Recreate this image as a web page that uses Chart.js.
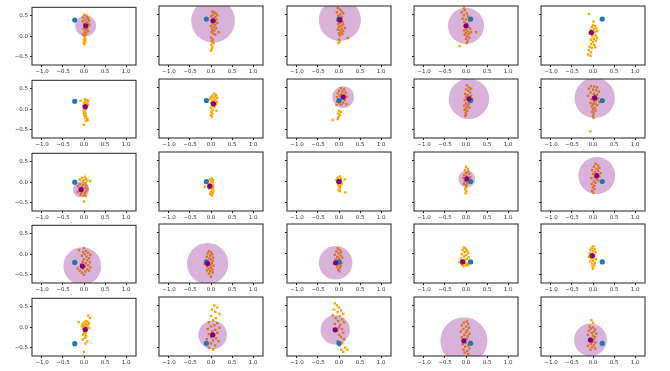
<!DOCTYPE html>
<html><head><meta charset="utf-8">
<script src="https://cdn.jsdelivr.net/npm/chart.js@4/dist/chart.umd.min.js"></script>
<style>
body{margin:0;background:#fff;width:670px;height:371px;overflow:hidden;position:relative}
canvas{position:absolute}
</style></head><body>
<script>
const xTicks = [-1.0, -0.5, 0.0, 0.5, 1.0];
const yTicks = [-0.5, 0.0, 0.5];

// purple point = centre of the translucent circle, per panel (row-major, 5x5)
const centerX = [0.04,0.05,0.02,0.00,-0.04, 0.03,0.06,0.10,0.07,0.04, -0.07,-0.03,0.00,0.02,0.09, -0.04,-0.08,-0.08,-0.08,-0.02, 0.03,0.04,-0.09,-0.05,-0.06];
const centerY = [0.25,0.35,0.37,0.23,0.07, 0.06,0.11,0.27,0.23,0.25, -0.18,-0.11,0.00,0.06,0.14, -0.29,-0.24,-0.22,-0.20,-0.05, -0.06,-0.20,-0.08,-0.34,-0.32];
const circleR = [0.25,0.52,0.50,0.43,0, 0,0,0.26,0.48,0.48, 0.19,0,0,0.20,0.44, 0.45,0.49,0.40,0,0, 0,0.34,0.35,0.56,0.39];

const blueX = [-0.22,-0.11,0.00,0.11,0.22, -0.22,-0.11,0.00,0.11,0.22, -0.22,-0.11,0.00,0.11,0.22, -0.22,-0.11,0.00,0.11,0.22, -0.22,-0.11,0.00,0.11,0.22];
const blueY = [0.39,0.39,0.39,0.39,0.39, 0.19,0.19,0.19,0.19,0.19, 0.00,0.00,0.00,0.00,0.00, -0.20,-0.20,-0.20,-0.20,-0.20, -0.40,-0.40,-0.40,-0.40,-0.40];

const orange = [
 [[0.0,0.52],[0.05,0.5],[0.08,0.47],[-0.02,0.45],[0.1,0.42],[0.03,0.4],[0.12,0.38],[-0.03,0.36],[0.06,0.34],[0.1,0.3],[0.0,0.3],[0.13,0.27],[0.04,0.22],[0.08,0.2],[-0.01,0.18],[0.06,0.15],[0.1,0.12],[0.02,0.1],[0.05,0.07],[-0.02,0.05],[0.03,0.02],[0.0,0.0],[0.02,-0.05],[0.0,-0.1],[0.03,-0.13],[-0.01,-0.16],[0.01,-0.2],[0.03,-0.08]],
 [[0.03,0.57],[0.08,0.55],[0.12,0.52],[0.05,0.5],[0.15,0.48],[0.0,0.46],[0.1,0.44],[0.05,0.41],[0.13,0.38],[0.02,0.36],[0.08,0.32],[0.15,0.3],[0.04,0.28],[0.1,0.25],[0.0,0.22],[0.06,0.2],[0.12,0.17],[0.03,0.14],[0.08,0.12],[0.18,0.08],[0.02,0.08],[0.06,0.04],[0.1,0.02],[0.0,-0.05],[0.04,-0.1],[0.02,-0.14],[0.06,-0.18],[0.01,-0.22],[0.03,-0.27],[0.02,-0.32],[0.0,-0.36]],
 [[-0.03,0.65],[0.02,0.62],[0.06,0.58],[-0.05,0.55],[0.1,0.53],[0.03,0.5],[-0.02,0.47],[0.07,0.44],[0.0,0.42],[0.05,0.38],[-0.04,0.35],[0.08,0.32],[0.02,0.3],[-0.02,0.27],[0.1,0.26],[0.05,0.23],[0.0,0.2],[0.14,0.18],[0.07,0.16],[-0.03,0.14],[0.03,0.12],[0.1,0.1],[0.05,0.07],[0.0,0.05],[0.08,0.03],[0.02,0.0],[0.21,-0.06],[0.0,-0.1],[0.02,-0.15],[-0.01,-0.18]],
 [[-0.05,0.66],[-0.03,0.6],[-0.1,0.55],[0.02,0.52],[-0.05,0.48],[0.05,0.45],[-0.08,0.4],[0.0,0.38],[0.08,0.35],[-0.04,0.32],[0.03,0.28],[-0.02,0.22],[0.06,0.2],[0.1,0.16],[0.0,0.14],[-0.05,0.12],[0.04,0.1],[0.12,0.08],[0.24,0.08],[0.0,0.06],[0.07,0.04],[-0.03,0.02],[0.03,-0.02],[0.08,-0.05],[0.0,-0.08],[0.04,-0.12],[0.02,-0.18],[-0.15,-0.25]],
 [[-0.1,0.51],[0.01,0.33],[0.0,0.25],[0.05,0.22],[-0.03,0.2],[0.08,0.17],[0.02,0.14],[-0.05,0.12],[0.1,0.1],[0.04,0.08],[-0.08,0.05],[0.0,0.03],[0.06,0.0],[-0.02,-0.02],[0.09,-0.05],[0.02,-0.08],[-0.05,-0.1],[0.07,-0.12],[0.0,-0.15],[-0.04,-0.2],[0.03,-0.22],[-0.08,-0.27],[-0.03,-0.3],[-0.1,-0.35],[-0.05,-0.4],[-0.12,-0.45],[-0.06,-0.48],[0.05,-0.28]],
 [[0.02,0.24],[0.07,0.22],[-0.08,0.2],[0.1,0.2],[0.04,0.18],[0.0,0.15],[0.08,0.14],[0.03,0.12],[0.1,0.1],[-0.02,0.08],[0.06,0.06],[0.0,0.03],[0.04,0.0],[-0.01,-0.03],[0.02,-0.06],[0.0,-0.1],[0.04,-0.12],[0.01,-0.15],[0.05,-0.18],[0.03,-0.21],[0.07,-0.24],[0.09,-0.27],[0.05,-0.28],[0.0,-0.38]],
 [[0.08,0.35],[0.12,0.32],[0.03,0.3],[0.1,0.28],[0.0,0.27],[0.15,0.25],[0.06,0.24],[-0.02,0.22],[0.1,0.2],[0.03,0.18],[0.14,0.16],[0.07,0.15],[0.0,0.13],[0.12,0.1],[0.02,0.06],[0.08,0.04],[0.0,0.02],[0.04,-0.03],[0.13,-0.05],[0.01,-0.08],[0.03,-0.12],[0.0,-0.16],[0.02,-0.19]],
 [[0.05,0.48],[0.12,0.45],[0.0,0.42],[0.08,0.4],[0.16,0.38],[-0.03,0.36],[0.05,0.34],[0.12,0.32],[0.02,0.3],[0.18,0.28],[-0.05,0.27],[0.08,0.25],[0.0,0.22],[0.14,0.2],[0.04,0.18],[-0.04,0.16],[0.1,0.14],[0.01,0.12],[0.18,0.1],[0.06,0.09],[-0.06,0.08],[0.0,-0.05],[0.04,-0.08],[-0.02,-0.12],[0.02,-0.15],[-0.01,-0.2],[-0.03,-0.25],[-0.15,-0.27]],
 [[0.02,0.55],[0.07,0.5],[0.12,0.47],[0.0,0.45],[0.06,0.42],[0.1,0.38],[-0.02,0.35],[0.04,0.32],[0.12,0.3],[0.0,0.28],[0.08,0.26],[0.15,0.22],[-0.03,0.2],[0.05,0.18],[0.1,0.15],[0.0,0.12],[0.06,0.1],[-0.04,0.07],[0.03,0.05],[0.08,0.02],[0.0,0.0],[-0.03,-0.03],[0.03,-0.06],[-0.01,-0.1],[0.0,-0.14],[-0.02,-0.18]],
 [[-0.05,0.53],[0.03,0.52],[0.1,0.5],[-0.1,0.47],[0.0,0.45],[0.07,0.43],[0.14,0.4],[-0.06,0.38],[0.02,0.35],[0.1,0.33],[-0.12,0.3],[0.05,0.3],[0.0,0.27],[0.12,0.24],[-0.04,0.22],[0.08,0.2],[0.02,0.17],[0.15,0.15],[-0.06,0.13],[0.05,0.12],[0.0,0.1],[0.1,0.08],[-0.03,0.05],[0.04,0.02],[0.0,-0.02],[0.06,-0.05],[-0.02,-0.08],[0.02,-0.12],[0.0,-0.17],[0.01,-0.22],[-0.06,-0.54]],
 [[0.02,0.13],[-0.05,0.1],[0.05,0.08],[-0.1,0.06],[0.0,0.05],[0.08,0.04],[0.15,0.02],[-0.03,0.02],[0.04,-0.02],[-0.1,-0.05],[-0.02,-0.06],[0.06,-0.08],[-0.14,-0.1],[-0.05,-0.12],[0.02,-0.14],[0.08,-0.16],[-0.1,-0.18],[-0.02,-0.2],[0.05,-0.22],[-0.15,-0.24],[-0.06,-0.25],[0.02,-0.27],[-0.08,-0.3],[0.0,-0.32],[0.05,-0.34],[0.0,-0.47]],
 [[0.02,0.07],[-0.03,0.05],[0.05,0.03],[-0.07,0.01],[0.0,0.0],[0.04,-0.02],[-0.1,-0.04],[-0.04,-0.06],[0.03,-0.08],[0.06,-0.1],[-0.15,-0.12],[0.0,-0.13],[0.05,-0.15],[-0.05,-0.17],[0.03,-0.19],[0.06,-0.22],[0.0,-0.25],[0.04,-0.28],[-0.02,-0.3],[0.02,-0.33]],
 [[0.02,0.12],[-0.03,0.09],[0.05,0.07],[0.14,0.05],[-0.06,0.04],[0.0,0.03],[0.04,0.0],[-0.04,-0.02],[0.02,-0.04],[0.07,-0.05],[-0.02,-0.07],[0.03,-0.1],[0.0,-0.13],[0.02,-0.16],[-0.01,-0.2],[0.02,-0.23],[0.15,-0.26]],
 [[0.0,0.35],[0.04,0.3],[-0.03,0.27],[0.05,0.24],[0.0,0.2],[0.08,0.18],[-0.04,0.15],[0.02,0.12],[0.1,0.1],[-0.06,0.08],[0.04,0.06],[0.0,0.04],[0.07,0.02],[-0.03,0.0],[0.03,-0.03],[-0.05,-0.06],[0.01,-0.09],[0.0,-0.14],[-0.02,-0.18],[0.01,-0.23],[-0.01,-0.28]],
 [[0.06,0.42],[0.12,0.38],[0.02,0.35],[0.15,0.32],[0.08,0.3],[-0.02,0.27],[0.12,0.25],[0.05,0.22],[0.18,0.2],[0.0,0.18],[0.1,0.16],[0.15,0.12],[0.04,0.1],[-0.04,0.08],[0.08,0.06],[0.12,0.03],[0.02,0.0],[0.06,-0.03],[-0.03,-0.06],[0.03,-0.1],[0.0,-0.14],[0.04,-0.18],[-0.02,-0.22],[0.01,-0.27]],
 [[0.0,0.15],[-0.12,0.1],[0.05,0.08],[-0.02,0.05],[0.1,0.03],[0.02,0.0],[0.15,-0.02],[-0.05,-0.04],[0.06,-0.06],[0.12,-0.1],[0.0,-0.12],[0.08,-0.15],[-0.03,-0.18],[0.14,-0.2],[0.04,-0.22],[-0.06,-0.25],[0.1,-0.27],[0.02,-0.3],[0.15,-0.32],[-0.02,-0.35],[0.08,-0.37],[-0.1,-0.4],[0.03,-0.42],[0.12,-0.4],[-0.05,-0.45],[0.0,-0.5],[-0.15,-0.35]],
 [[-0.05,0.06],[0.0,0.03],[-0.08,0.0],[0.03,-0.02],[-0.02,-0.05],[-0.1,-0.08],[0.05,-0.1],[-0.04,-0.12],[0.0,-0.15],[-0.12,-0.17],[0.04,-0.18],[-0.06,-0.21],[0.02,-0.23],[-0.15,-0.25],[-0.02,-0.27],[0.06,-0.29],[-0.09,-0.31],[0.0,-0.33],[-0.05,-0.36],[0.03,-0.38],[-0.1,-0.4],[-0.02,-0.42],[0.04,-0.45],[-0.05,-0.48],[0.0,-0.55]],
 [[-0.03,0.12],[0.02,0.08],[-0.06,0.05],[0.05,0.03],[-0.01,0.0],[-0.1,-0.03],[0.04,-0.05],[-0.04,-0.08],[0.08,-0.1],[0.0,-0.12],[-0.08,-0.14],[0.03,-0.17],[-0.03,-0.2],[0.06,-0.22],[-0.12,-0.24],[0.0,-0.26],[0.04,-0.29],[-0.05,-0.31],[0.02,-0.34],[-0.02,-0.38],[0.01,-0.42]],
 [[-0.05,0.14],[0.0,0.11],[-0.08,0.08],[0.03,0.06],[-0.03,0.04],[0.05,0.01],[-0.1,-0.02],[0.0,-0.04],[-0.05,-0.07],[0.06,-0.09],[-0.12,-0.12],[0.02,-0.13],[-0.03,-0.16],[0.07,-0.18],[-0.16,-0.2],[-0.02,-0.22],[0.04,-0.24],[-0.1,-0.26],[0.0,-0.28],[-0.06,-0.3],[0.05,-0.28]],
 [[0.01,0.17],[-0.03,0.13],[0.04,0.1],[-0.06,0.08],[0.0,0.05],[0.06,0.03],[-0.08,0.0],[-0.02,-0.02],[0.04,-0.05],[-0.1,-0.08],[0.02,-0.1],[-0.04,-0.12],[0.07,-0.14],[0.0,-0.17],[-0.06,-0.19],[0.04,-0.22],[-0.02,-0.25],[0.03,-0.28],[-0.01,-0.32],[0.0,-0.36]],
 [[0.1,0.28],[0.14,0.22],[-0.13,0.12],[0.04,0.15],[0.08,0.13],[0.0,0.11],[0.12,0.1],[-0.03,0.08],[0.05,0.07],[0.1,0.05],[0.0,0.04],[-0.05,0.02],[0.07,0.01],[0.02,-0.01],[0.12,-0.02],[-0.02,-0.04],[0.06,-0.08],[0.0,-0.12],[0.04,-0.15],[-0.02,-0.18],[0.05,-0.22],[0.02,-0.26],[-0.03,-0.3],[0.08,-0.35],[0.03,-0.4],[0.0,-0.6]],
 [[0.08,0.5],[0.15,0.45],[0.02,0.4],[0.1,0.35],[0.2,0.3],[0.0,0.25],[0.12,0.2],[0.05,0.15],[-0.05,0.1],[0.15,0.08],[0.08,0.03],[0.0,0.0],[0.2,-0.03],[-0.08,-0.06],[0.1,-0.08],[0.03,-0.12],[0.15,-0.15],[-0.05,-0.18],[0.08,-0.2],[0.0,-0.25],[0.12,-0.28],[-0.1,-0.3],[0.05,-0.33],[0.18,-0.35],[0.0,-0.4],[0.1,-0.45],[-0.05,-0.5],[0.05,-0.55]],
 [[-0.1,0.55],[-0.05,0.5],[0.0,0.45],[-0.12,0.4],[0.05,0.38],[-0.03,0.34],[0.1,0.3],[-0.15,0.27],[0.02,0.25],[-0.08,0.2],[0.08,0.17],[-0.02,0.13],[0.12,0.1],[-0.1,0.06],[0.03,0.04],[0.0,-0.02],[0.07,-0.06],[-0.04,-0.1],[0.1,-0.15],[0.0,-0.2],[0.05,-0.25],[0.12,-0.3],[-0.03,-0.35],[0.08,-0.4],[0.02,-0.45],[0.15,-0.5],[0.05,-0.55],[0.1,-0.6],[0.2,-0.55]],
 [[0.02,0.12],[-0.05,0.09],[0.05,0.06],[-0.1,0.03],[0.0,0.0],[0.07,-0.03],[-0.06,-0.06],[0.03,-0.09],[-0.12,-0.12],[0.0,-0.14],[0.08,-0.17],[-0.04,-0.2],[0.04,-0.23],[-0.1,-0.26],[0.02,-0.29],[-0.05,-0.32],[0.09,-0.36],[0.0,-0.39],[-0.08,-0.42],[0.05,-0.45],[-0.02,-0.48],[0.08,-0.52],[-0.06,-0.55],[0.03,-0.58],[-0.03,-0.62],[0.05,-0.65]],
 [[-0.04,0.15],[0.0,0.09],[-0.08,0.0],[0.0,-0.02],[-0.05,-0.05],[0.05,-0.07],[-0.1,-0.1],[0.02,-0.12],[-0.03,-0.15],[0.08,-0.17],[-0.12,-0.2],[0.0,-0.22],[0.05,-0.25],[-0.07,-0.28],[0.02,-0.3],[-0.1,-0.33],[0.0,-0.36],[0.06,-0.38],[-0.05,-0.41],[0.02,-0.44],[-0.12,-0.46],[-0.02,-0.49],[0.05,-0.52],[-0.06,-0.55]]
];

const colLeft = [32, 159, 287, 414, 541];
const rowTop = [4, 77, 150, 222, 295];
const PW = 106, PH = 61, LM = 30, BM = 12, TP = 2, RP = 2;

const fmt = v => (v < 0 ? '\u2212' : '') + Math.abs(v).toFixed(1);
const tickFont = {family: 'DejaVu Sans', size: 5.5};

const frame = {
  id: 'frame',
  afterDatasetsDraw(chart) {
    const a = chart.chartArea, ctx = chart.ctx;
    ctx.save();
    ctx.strokeStyle = '#222';
    ctx.lineWidth = 1;
    ctx.strokeRect(a.left, a.top, a.right - a.left, a.bottom - a.top);
    ctx.restore();
  }
};

for (let i = 0; i < 25; i++) {
  const r = Math.floor(i / 5), c = i % 5;
  const cv = document.createElement('canvas');
  cv.width = LM + PW + RP;
  cv.height = TP + PH + BM;
  cv.style.left = (colLeft[c] - LM) + 'px';
  cv.style.top = (rowTop[r] - TP) + 'px';
  document.body.appendChild(cv);
  const R = circleR[i];
  new Chart(cv, {
    type: 'scatter',
    data: {datasets: [
      {data: [{x: centerX[i], y: centerY[i]}], pointBackgroundColor: '#800080', pointRadius: 2.6, pointBorderWidth: 0, order: 1, clip: 0},
      {data: [{x: blueX[i], y: blueY[i]}], pointBackgroundColor: '#1f77b4', pointRadius: 2.6, pointBorderWidth: 0, order: 2, clip: 0},
      {data: [{x: centerX[i], y: centerY[i]}], pointBackgroundColor: 'rgba(128,0,128,0.3)', pointBorderWidth: 0, order: 3, clip: 0,
        pointRadius: ctx => {
          const s = ctx.chart.scales.x;
          return Math.abs(s.getPixelForValue(R) - s.getPixelForValue(0));
        }},
      {data: orange[i].map(p => ({x: p[0], y: p[1]})), pointBackgroundColor: '#ffa500', pointStyle: 'rect', pointRadius: 1.7, pointBorderWidth: 0, order: 4, clip: 0}
    ]},
    options: {
      animation: false, responsive: false, devicePixelRatio: 1, events: [],
      plugins: {legend: {display: false}, tooltip: {enabled: false}},
      layout: {padding: {top: TP, right: RP, left: 0, bottom: 0}},
      scales: {
        x: {
          type: 'linear', min: -1.237, max: 1.237,
          afterBuildTicks: s => { s.ticks = xTicks.map(v => ({value: v})); },
          afterFit: s => { s.height = BM; },
          ticks: {callback: v => fmt(v), font: tickFont, color: '#333', padding: 1.5, maxRotation: 0, autoSkip: false},
          grid: {display: true, drawOnChartArea: false, drawTicks: true, tickLength: 2, color: '#222', lineWidth: 1},
          border: {display: false}
        },
        y: {
          type: 'linear', min: -0.7, max: 0.7,
          afterBuildTicks: s => { s.ticks = yTicks.map(v => ({value: v})); },
          afterFit: s => { s.width = LM; },
          ticks: {display: c === 0, callback: v => fmt(v), font: tickFont, color: '#333', padding: 2},
          grid: {display: true, drawOnChartArea: false, drawTicks: true, tickLength: 2, color: '#222', lineWidth: 1},
          border: {display: false}
        }
      }
    },
    plugins: [frame]
  });
}
</script>
</body></html>
